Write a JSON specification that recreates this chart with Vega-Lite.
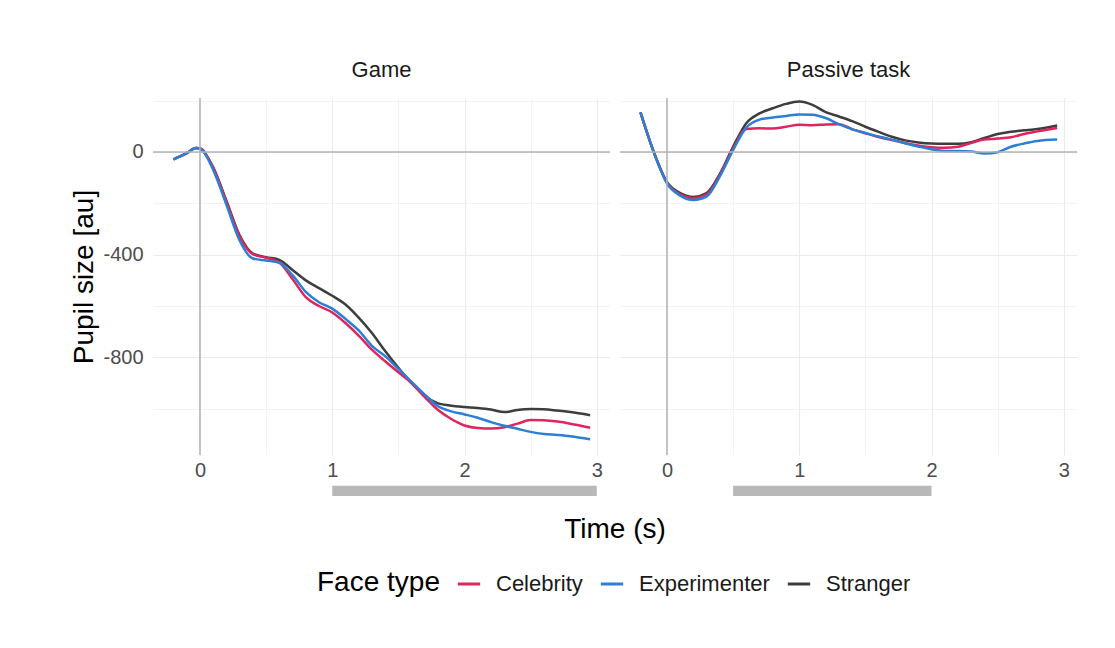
{
  "$schema": "https://vega.github.io/schema/vega-lite/v6.json",
  "background": "white",
  "padding": {"left": 70, "top": 59, "right": 30, "bottom": 10},
  "bounds": "flush",
  "config": {
    "font": "Liberation Sans",
    "view": {"stroke": null},
    "axis": {"domain": false, "ticks": false, "gridColor": "#ebebeb", "labelColor": "#4d4d4d", "labelFontSize": 20, "titleFontSize": 28, "titleFontWeight": "normal", "titleColor": "#000000"},
    "header": {"labelFontSize": 22, "labelColor": "#1a1a1a", "labelPadding": 16, "titleFontSize": 28, "titleFontWeight": "normal", "titleColor": "#000000"},
    "legend": {"labelFontSize": 22, "titleFontSize": 28, "titleFontWeight": "normal", "labelColor": "#1a1a1a", "titleColor": "#000000"}
  },
  "data": {
    "values": [
      {"kind": "zero", "task": "Game", "t": 0, "v": 0},
      {"kind": "zero", "task": "Passive task", "t": 0, "v": 0},
      {"kind": "bar", "task": "Game", "t": 1, "t2": 3},
      {"kind": "bar", "task": "Passive task", "t": 0.5, "t2": 2},

      {"kind": "line", "task": "Game", "face": "Stranger", "t": -0.2, "v": -29},
      {"kind": "line", "task": "Game", "face": "Stranger", "t": -0.1, "v": -5},
      {"kind": "line", "task": "Game", "face": "Stranger", "t": -0.03, "v": 15},
      {"kind": "line", "task": "Game", "face": "Stranger", "t": 0, "v": 12},
      {"kind": "line", "task": "Game", "face": "Stranger", "t": 0.1, "v": -60},
      {"kind": "line", "task": "Game", "face": "Stranger", "t": 0.2, "v": -190},
      {"kind": "line", "task": "Game", "face": "Stranger", "t": 0.3, "v": -325},
      {"kind": "line", "task": "Game", "face": "Stranger", "t": 0.4, "v": -396},
      {"kind": "line", "task": "Game", "face": "Stranger", "t": 0.5, "v": -410},
      {"kind": "line", "task": "Game", "face": "Stranger", "t": 0.6, "v": -420},
      {"kind": "line", "task": "Game", "face": "Stranger", "t": 0.7, "v": -460},
      {"kind": "line", "task": "Game", "face": "Stranger", "t": 0.8, "v": -500},
      {"kind": "line", "task": "Game", "face": "Stranger", "t": 0.9, "v": -530},
      {"kind": "line", "task": "Game", "face": "Stranger", "t": 1.0, "v": -560},
      {"kind": "line", "task": "Game", "face": "Stranger", "t": 1.1, "v": -594},
      {"kind": "line", "task": "Game", "face": "Stranger", "t": 1.2, "v": -645},
      {"kind": "line", "task": "Game", "face": "Stranger", "t": 1.3, "v": -705},
      {"kind": "line", "task": "Game", "face": "Stranger", "t": 1.4, "v": -775},
      {"kind": "line", "task": "Game", "face": "Stranger", "t": 1.5, "v": -840},
      {"kind": "line", "task": "Game", "face": "Stranger", "t": 1.6, "v": -900},
      {"kind": "line", "task": "Game", "face": "Stranger", "t": 1.7, "v": -950},
      {"kind": "line", "task": "Game", "face": "Stranger", "t": 1.8, "v": -979},
      {"kind": "line", "task": "Game", "face": "Stranger", "t": 1.9, "v": -988},
      {"kind": "line", "task": "Game", "face": "Stranger", "t": 2.0, "v": -993},
      {"kind": "line", "task": "Game", "face": "Stranger", "t": 2.1, "v": -997},
      {"kind": "line", "task": "Game", "face": "Stranger", "t": 2.2, "v": -1003},
      {"kind": "line", "task": "Game", "face": "Stranger", "t": 2.3, "v": -1013},
      {"kind": "line", "task": "Game", "face": "Stranger", "t": 2.4, "v": -1005},
      {"kind": "line", "task": "Game", "face": "Stranger", "t": 2.5, "v": -1001},
      {"kind": "line", "task": "Game", "face": "Stranger", "t": 2.6, "v": -1002},
      {"kind": "line", "task": "Game", "face": "Stranger", "t": 2.7, "v": -1007},
      {"kind": "line", "task": "Game", "face": "Stranger", "t": 2.8, "v": -1013},
      {"kind": "line", "task": "Game", "face": "Stranger", "t": 2.95, "v": -1025},

      {"kind": "line", "task": "Game", "face": "Celebrity", "t": -0.2, "v": -29},
      {"kind": "line", "task": "Game", "face": "Celebrity", "t": -0.1, "v": -5},
      {"kind": "line", "task": "Game", "face": "Celebrity", "t": -0.03, "v": 15},
      {"kind": "line", "task": "Game", "face": "Celebrity", "t": 0, "v": 14},
      {"kind": "line", "task": "Game", "face": "Celebrity", "t": 0.1, "v": -62},
      {"kind": "line", "task": "Game", "face": "Celebrity", "t": 0.2, "v": -195},
      {"kind": "line", "task": "Game", "face": "Celebrity", "t": 0.3, "v": -330},
      {"kind": "line", "task": "Game", "face": "Celebrity", "t": 0.4, "v": -398},
      {"kind": "line", "task": "Game", "face": "Celebrity", "t": 0.5, "v": -412},
      {"kind": "line", "task": "Game", "face": "Celebrity", "t": 0.6, "v": -430},
      {"kind": "line", "task": "Game", "face": "Celebrity", "t": 0.7, "v": -495},
      {"kind": "line", "task": "Game", "face": "Celebrity", "t": 0.8, "v": -565},
      {"kind": "line", "task": "Game", "face": "Celebrity", "t": 0.9, "v": -600},
      {"kind": "line", "task": "Game", "face": "Celebrity", "t": 1.0, "v": -625},
      {"kind": "line", "task": "Game", "face": "Celebrity", "t": 1.1, "v": -666},
      {"kind": "line", "task": "Game", "face": "Celebrity", "t": 1.2, "v": -715},
      {"kind": "line", "task": "Game", "face": "Celebrity", "t": 1.3, "v": -770},
      {"kind": "line", "task": "Game", "face": "Celebrity", "t": 1.4, "v": -815},
      {"kind": "line", "task": "Game", "face": "Celebrity", "t": 1.5, "v": -858},
      {"kind": "line", "task": "Game", "face": "Celebrity", "t": 1.6, "v": -900},
      {"kind": "line", "task": "Game", "face": "Celebrity", "t": 1.7, "v": -955},
      {"kind": "line", "task": "Game", "face": "Celebrity", "t": 1.8, "v": -1005},
      {"kind": "line", "task": "Game", "face": "Celebrity", "t": 1.9, "v": -1040},
      {"kind": "line", "task": "Game", "face": "Celebrity", "t": 2.0, "v": -1065},
      {"kind": "line", "task": "Game", "face": "Celebrity", "t": 2.1, "v": -1075},
      {"kind": "line", "task": "Game", "face": "Celebrity", "t": 2.2, "v": -1077},
      {"kind": "line", "task": "Game", "face": "Celebrity", "t": 2.3, "v": -1072},
      {"kind": "line", "task": "Game", "face": "Celebrity", "t": 2.4, "v": -1058},
      {"kind": "line", "task": "Game", "face": "Celebrity", "t": 2.5, "v": -1044},
      {"kind": "line", "task": "Game", "face": "Celebrity", "t": 2.6, "v": -1045},
      {"kind": "line", "task": "Game", "face": "Celebrity", "t": 2.7, "v": -1050},
      {"kind": "line", "task": "Game", "face": "Celebrity", "t": 2.8, "v": -1058},
      {"kind": "line", "task": "Game", "face": "Celebrity", "t": 2.95, "v": -1074},

      {"kind": "line", "task": "Game", "face": "Experimenter", "t": -0.2, "v": -29},
      {"kind": "line", "task": "Game", "face": "Experimenter", "t": -0.1, "v": -5},
      {"kind": "line", "task": "Game", "face": "Experimenter", "t": -0.03, "v": 15},
      {"kind": "line", "task": "Game", "face": "Experimenter", "t": 0, "v": 13},
      {"kind": "line", "task": "Game", "face": "Experimenter", "t": 0.1, "v": -70},
      {"kind": "line", "task": "Game", "face": "Experimenter", "t": 0.2, "v": -205},
      {"kind": "line", "task": "Game", "face": "Experimenter", "t": 0.3, "v": -345},
      {"kind": "line", "task": "Game", "face": "Experimenter", "t": 0.4, "v": -415},
      {"kind": "line", "task": "Game", "face": "Experimenter", "t": 0.5, "v": -423},
      {"kind": "line", "task": "Game", "face": "Experimenter", "t": 0.6, "v": -432},
      {"kind": "line", "task": "Game", "face": "Experimenter", "t": 0.7, "v": -480},
      {"kind": "line", "task": "Game", "face": "Experimenter", "t": 0.8, "v": -545},
      {"kind": "line", "task": "Game", "face": "Experimenter", "t": 0.9, "v": -585},
      {"kind": "line", "task": "Game", "face": "Experimenter", "t": 1.0, "v": -610},
      {"kind": "line", "task": "Game", "face": "Experimenter", "t": 1.1, "v": -650},
      {"kind": "line", "task": "Game", "face": "Experimenter", "t": 1.2, "v": -695},
      {"kind": "line", "task": "Game", "face": "Experimenter", "t": 1.3, "v": -755},
      {"kind": "line", "task": "Game", "face": "Experimenter", "t": 1.4, "v": -795},
      {"kind": "line", "task": "Game", "face": "Experimenter", "t": 1.5, "v": -845},
      {"kind": "line", "task": "Game", "face": "Experimenter", "t": 1.6, "v": -895},
      {"kind": "line", "task": "Game", "face": "Experimenter", "t": 1.7, "v": -945},
      {"kind": "line", "task": "Game", "face": "Experimenter", "t": 1.8, "v": -990},
      {"kind": "line", "task": "Game", "face": "Experimenter", "t": 1.9, "v": -1010},
      {"kind": "line", "task": "Game", "face": "Experimenter", "t": 2.0, "v": -1022},
      {"kind": "line", "task": "Game", "face": "Experimenter", "t": 2.1, "v": -1035},
      {"kind": "line", "task": "Game", "face": "Experimenter", "t": 2.2, "v": -1052},
      {"kind": "line", "task": "Game", "face": "Experimenter", "t": 2.3, "v": -1066},
      {"kind": "line", "task": "Game", "face": "Experimenter", "t": 2.4, "v": -1078},
      {"kind": "line", "task": "Game", "face": "Experimenter", "t": 2.5, "v": -1090},
      {"kind": "line", "task": "Game", "face": "Experimenter", "t": 2.6, "v": -1098},
      {"kind": "line", "task": "Game", "face": "Experimenter", "t": 2.7, "v": -1102},
      {"kind": "line", "task": "Game", "face": "Experimenter", "t": 2.8, "v": -1107},
      {"kind": "line", "task": "Game", "face": "Experimenter", "t": 2.95, "v": -1119},

      {"kind": "line", "task": "Passive task", "face": "Stranger", "t": -0.2, "v": 154},
      {"kind": "line", "task": "Passive task", "face": "Stranger", "t": -0.1, "v": 0},
      {"kind": "line", "task": "Passive task", "face": "Stranger", "t": 0, "v": -117},
      {"kind": "line", "task": "Passive task", "face": "Stranger", "t": 0.1, "v": -160},
      {"kind": "line", "task": "Passive task", "face": "Stranger", "t": 0.2, "v": -175},
      {"kind": "line", "task": "Passive task", "face": "Stranger", "t": 0.3, "v": -160},
      {"kind": "line", "task": "Passive task", "face": "Stranger", "t": 0.4, "v": -85},
      {"kind": "line", "task": "Passive task", "face": "Stranger", "t": 0.5, "v": 20},
      {"kind": "line", "task": "Passive task", "face": "Stranger", "t": 0.6, "v": 112},
      {"kind": "line", "task": "Passive task", "face": "Stranger", "t": 0.7, "v": 150},
      {"kind": "line", "task": "Passive task", "face": "Stranger", "t": 0.8, "v": 170},
      {"kind": "line", "task": "Passive task", "face": "Stranger", "t": 0.9, "v": 187},
      {"kind": "line", "task": "Passive task", "face": "Stranger", "t": 1.0, "v": 196},
      {"kind": "line", "task": "Passive task", "face": "Stranger", "t": 1.1, "v": 183},
      {"kind": "line", "task": "Passive task", "face": "Stranger", "t": 1.2, "v": 155},
      {"kind": "line", "task": "Passive task", "face": "Stranger", "t": 1.3, "v": 138},
      {"kind": "line", "task": "Passive task", "face": "Stranger", "t": 1.4, "v": 120},
      {"kind": "line", "task": "Passive task", "face": "Stranger", "t": 1.5, "v": 98},
      {"kind": "line", "task": "Passive task", "face": "Stranger", "t": 1.6, "v": 78},
      {"kind": "line", "task": "Passive task", "face": "Stranger", "t": 1.7, "v": 59},
      {"kind": "line", "task": "Passive task", "face": "Stranger", "t": 1.8, "v": 45},
      {"kind": "line", "task": "Passive task", "face": "Stranger", "t": 1.9, "v": 37},
      {"kind": "line", "task": "Passive task", "face": "Stranger", "t": 2.0, "v": 33},
      {"kind": "line", "task": "Passive task", "face": "Stranger", "t": 2.1, "v": 32},
      {"kind": "line", "task": "Passive task", "face": "Stranger", "t": 2.2, "v": 32},
      {"kind": "line", "task": "Passive task", "face": "Stranger", "t": 2.3, "v": 38},
      {"kind": "line", "task": "Passive task", "face": "Stranger", "t": 2.4, "v": 54},
      {"kind": "line", "task": "Passive task", "face": "Stranger", "t": 2.5, "v": 70},
      {"kind": "line", "task": "Passive task", "face": "Stranger", "t": 2.6, "v": 79},
      {"kind": "line", "task": "Passive task", "face": "Stranger", "t": 2.7, "v": 84},
      {"kind": "line", "task": "Passive task", "face": "Stranger", "t": 2.8, "v": 89},
      {"kind": "line", "task": "Passive task", "face": "Stranger", "t": 2.95, "v": 103},

      {"kind": "line", "task": "Passive task", "face": "Celebrity", "t": -0.2, "v": 154},
      {"kind": "line", "task": "Passive task", "face": "Celebrity", "t": -0.1, "v": 0},
      {"kind": "line", "task": "Passive task", "face": "Celebrity", "t": 0, "v": -120},
      {"kind": "line", "task": "Passive task", "face": "Celebrity", "t": 0.1, "v": -165},
      {"kind": "line", "task": "Passive task", "face": "Celebrity", "t": 0.2, "v": -180},
      {"kind": "line", "task": "Passive task", "face": "Celebrity", "t": 0.3, "v": -165},
      {"kind": "line", "task": "Passive task", "face": "Celebrity", "t": 0.4, "v": -90},
      {"kind": "line", "task": "Passive task", "face": "Celebrity", "t": 0.5, "v": 12},
      {"kind": "line", "task": "Passive task", "face": "Celebrity", "t": 0.6, "v": 89},
      {"kind": "line", "task": "Passive task", "face": "Celebrity", "t": 0.7, "v": 92},
      {"kind": "line", "task": "Passive task", "face": "Celebrity", "t": 0.8, "v": 91},
      {"kind": "line", "task": "Passive task", "face": "Celebrity", "t": 0.9, "v": 98},
      {"kind": "line", "task": "Passive task", "face": "Celebrity", "t": 1.0, "v": 106},
      {"kind": "line", "task": "Passive task", "face": "Celebrity", "t": 1.1, "v": 104},
      {"kind": "line", "task": "Passive task", "face": "Celebrity", "t": 1.2, "v": 107},
      {"kind": "line", "task": "Passive task", "face": "Celebrity", "t": 1.3, "v": 108},
      {"kind": "line", "task": "Passive task", "face": "Celebrity", "t": 1.4, "v": 89},
      {"kind": "line", "task": "Passive task", "face": "Celebrity", "t": 1.5, "v": 73},
      {"kind": "line", "task": "Passive task", "face": "Celebrity", "t": 1.6, "v": 58},
      {"kind": "line", "task": "Passive task", "face": "Celebrity", "t": 1.7, "v": 46},
      {"kind": "line", "task": "Passive task", "face": "Celebrity", "t": 1.8, "v": 35},
      {"kind": "line", "task": "Passive task", "face": "Celebrity", "t": 1.9, "v": 25},
      {"kind": "line", "task": "Passive task", "face": "Celebrity", "t": 2.0, "v": 18},
      {"kind": "line", "task": "Passive task", "face": "Celebrity", "t": 2.1, "v": 16},
      {"kind": "line", "task": "Passive task", "face": "Celebrity", "t": 2.2, "v": 20},
      {"kind": "line", "task": "Passive task", "face": "Celebrity", "t": 2.3, "v": 35},
      {"kind": "line", "task": "Passive task", "face": "Celebrity", "t": 2.4, "v": 48},
      {"kind": "line", "task": "Passive task", "face": "Celebrity", "t": 2.5, "v": 52},
      {"kind": "line", "task": "Passive task", "face": "Celebrity", "t": 2.6, "v": 57},
      {"kind": "line", "task": "Passive task", "face": "Celebrity", "t": 2.7, "v": 70},
      {"kind": "line", "task": "Passive task", "face": "Celebrity", "t": 2.8, "v": 80},
      {"kind": "line", "task": "Passive task", "face": "Celebrity", "t": 2.95, "v": 93},

      {"kind": "line", "task": "Passive task", "face": "Experimenter", "t": -0.2, "v": 154},
      {"kind": "line", "task": "Passive task", "face": "Experimenter", "t": -0.1, "v": 0},
      {"kind": "line", "task": "Passive task", "face": "Experimenter", "t": 0, "v": -122},
      {"kind": "line", "task": "Passive task", "face": "Experimenter", "t": 0.1, "v": -170},
      {"kind": "line", "task": "Passive task", "face": "Experimenter", "t": 0.2, "v": -187},
      {"kind": "line", "task": "Passive task", "face": "Experimenter", "t": 0.3, "v": -173},
      {"kind": "line", "task": "Passive task", "face": "Experimenter", "t": 0.4, "v": -95},
      {"kind": "line", "task": "Passive task", "face": "Experimenter", "t": 0.5, "v": 7},
      {"kind": "line", "task": "Passive task", "face": "Experimenter", "t": 0.6, "v": 95},
      {"kind": "line", "task": "Passive task", "face": "Experimenter", "t": 0.7, "v": 126},
      {"kind": "line", "task": "Passive task", "face": "Experimenter", "t": 0.8, "v": 134},
      {"kind": "line", "task": "Passive task", "face": "Experimenter", "t": 0.9, "v": 140},
      {"kind": "line", "task": "Passive task", "face": "Experimenter", "t": 1.0, "v": 146},
      {"kind": "line", "task": "Passive task", "face": "Experimenter", "t": 1.1, "v": 145},
      {"kind": "line", "task": "Passive task", "face": "Experimenter", "t": 1.2, "v": 132},
      {"kind": "line", "task": "Passive task", "face": "Experimenter", "t": 1.3, "v": 108},
      {"kind": "line", "task": "Passive task", "face": "Experimenter", "t": 1.4, "v": 88},
      {"kind": "line", "task": "Passive task", "face": "Experimenter", "t": 1.5, "v": 74},
      {"kind": "line", "task": "Passive task", "face": "Experimenter", "t": 1.6, "v": 60},
      {"kind": "line", "task": "Passive task", "face": "Experimenter", "t": 1.7, "v": 48},
      {"kind": "line", "task": "Passive task", "face": "Experimenter", "t": 1.8, "v": 34},
      {"kind": "line", "task": "Passive task", "face": "Experimenter", "t": 1.9, "v": 21},
      {"kind": "line", "task": "Passive task", "face": "Experimenter", "t": 2.0, "v": 10},
      {"kind": "line", "task": "Passive task", "face": "Experimenter", "t": 2.1, "v": 4},
      {"kind": "line", "task": "Passive task", "face": "Experimenter", "t": 2.2, "v": 4},
      {"kind": "line", "task": "Passive task", "face": "Experimenter", "t": 2.3, "v": 2},
      {"kind": "line", "task": "Passive task", "face": "Experimenter", "t": 2.4, "v": -6},
      {"kind": "line", "task": "Passive task", "face": "Experimenter", "t": 2.5, "v": -1},
      {"kind": "line", "task": "Passive task", "face": "Experimenter", "t": 2.6, "v": 20},
      {"kind": "line", "task": "Passive task", "face": "Experimenter", "t": 2.7, "v": 33},
      {"kind": "line", "task": "Passive task", "face": "Experimenter", "t": 2.8, "v": 43},
      {"kind": "line", "task": "Passive task", "face": "Experimenter", "t": 2.95, "v": 48}
    ]
  },
  "facet": {"column": {"field": "task", "type": "nominal", "header": {"title": "Time (s)", "titleOrient": "bottom", "labelOrient": "top", "titlePadding": 26}}},
  "spacing": 10,
  "resolve": {"scale": {"x": "shared", "y": "shared"}},
  "spec": {
    "width": 457,
    "height": 357,
    "layer": [
      {
        "transform": [{"filter": "datum.kind === 'line'"}],
        "mark": {"type": "line", "strokeWidth": 2.5, "interpolate": "monotone"},
        "encoding": {
          "x": {
            "field": "t", "type": "quantitative", "title": null,
            "scale": {"domain": [-0.355, 3.1], "nice": false, "zero": false},
            "axis": {
              "values": [0, 0.5, 1, 1.5, 2, 2.5, 3],
              "labelExpr": "datum.value % 1 === 0 ? toString(datum.value) : ''",
              "gridWidth": {"condition": {"test": "datum.value % 1 === 0", "value": 1.1}, "value": 0.6},
              "labelPadding": 5
            }
          },
          "y": {
            "field": "v", "type": "quantitative", "title": "Pupil size [au]",
            "scale": {"domain": [-1180, 210], "nice": false, "zero": false},
            "axis": {
              "values": [-1000, -800, -600, -400, -200, 0, 200],
              "labelExpr": "datum.value % 400 === 0 ? toString(datum.value) : ''",
              "gridWidth": {"condition": {"test": "datum.value % 400 === 0", "value": 1.1}, "value": 0.6},
              "labelPadding": 10,
              "titlePadding": 4
            }
          },
          "color": {
            "field": "face", "type": "nominal", "title": "Face type",
            "scale": {"domain": ["Celebrity", "Experimenter", "Stranger"], "range": ["#e0245e", "#2b7fd5", "#3d3d3d"]},
            "legend": {"orient": "none", "legendX": 164, "legendY": 473, "direction": "horizontal", "titleOrient": "left", "symbolType": "stroke", "symbolStrokeWidth": 3, "symbolSize": 500, "labelOffset": 14, "columnPadding": 11, "titlePadding": 16}
          }
        }
      },
      {
        "transform": [{"filter": "datum.kind === 'zero'"}],
        "mark": {"type": "rule", "color": "#b3b3b3", "strokeWidth": 1.5},
        "encoding": {"y": {"field": "v", "type": "quantitative"}}
      },
      {
        "transform": [{"filter": "datum.kind === 'zero'"}],
        "mark": {"type": "rule", "color": "#b3b3b3", "strokeWidth": 1.5},
        "encoding": {"x": {"field": "t", "type": "quantitative"}}
      },
      {
        "transform": [{"filter": "datum.kind === 'bar'"}],
        "mark": {"type": "rect", "color": "#b8b8b8", "clip": false},
        "encoding": {
          "x": {"field": "t", "type": "quantitative"},
          "x2": {"field": "t2"},
          "y": {"datum": -1300},
          "y2": {"datum": -1340}
        }
      }
    ]
  }
}
